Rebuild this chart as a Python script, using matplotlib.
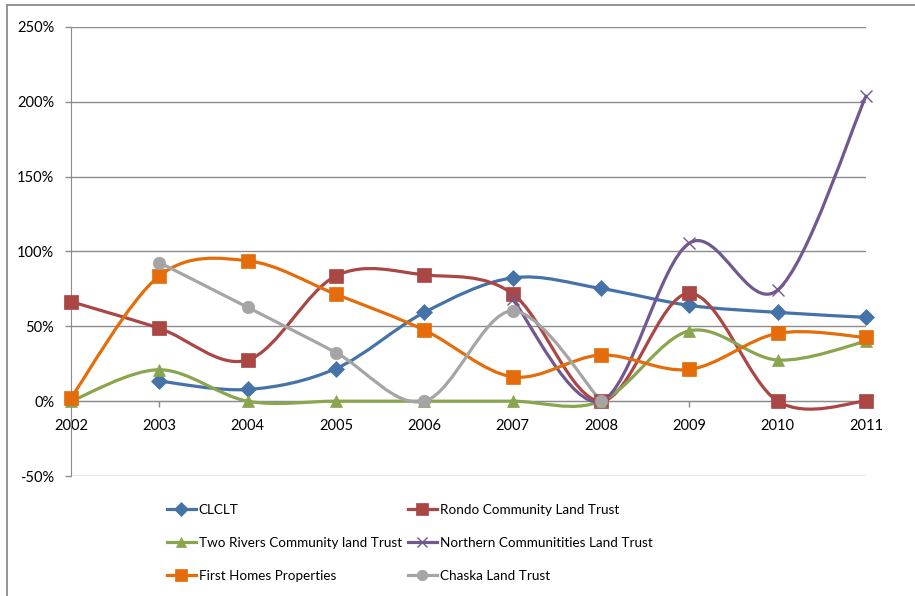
import matplotlib
matplotlib.use('Agg')
import matplotlib.pyplot as plt
from matplotlib.path import Path
from matplotlib.patches import PathPatch
from matplotlib.lines import Line2D

years = ['2002', '2003', '2004', '2005', '2006', '2007', '2008', '2009', '2010', '2011']
clclt = [None, 13.4, 7.8, 21.8, 59.3, 82.4, 75.3, 64.0, 59.3, 56.0]
rondo = [66.5, 48.7, 27.5, 83.7, 84.4, 71.7, 0, 72.1, 0, 0]
two_rivers = [0, 21, 0, 0, 0, 0, 0, 47, 27.5, 40]
northern = [None, None, None, None, None, 68, 0, 105.6, 74.3, 203.8]
first_homes = [2.2, 83.7, 93.8, 71.4, 47.5, 16.3, 30.8, 21.2, 45.3, 42.6]
chaska = [None, 92.6, 62.7, 32.4, 0, 60.3, 0, None, None, None]

names = ['CLCLT', 'Rondo Community Land Trust', 'Two Rivers Community land Trust',
         'Northern Communitities Land Trust', 'First Homes Properties', 'Chaska Land Trust']
yticks = [-50, 0, 50, 100, 150, 200, 250]

series = [clclt, rondo, two_rivers, northern, first_homes, chaska]
colors = ['#4572A7', '#AA4643', '#89A54E', '#71588F', '#E46C0A', '#A5A5A5']
markers = ['D', 's', '^', 'x', 's', 'o']
msizes = [7.8, 9.5, 9, 9, 9.5, 9]

plt.rcParams['font.family'] = ['Lato', 'DejaVu Sans']

fig = plt.figure(figsize=(9.15, 5.96), dpi=100)
ax = fig.add_axes([71/915, 1-476/596, (866-71)/915, (476-27)/596])


def smooth_path(xs, ys):
    verts = [(xs[0], ys[0])]
    codes = [Path.MOVETO]
    n = len(xs)
    for i in range(n - 1):
        p0 = i - 1 if i > 0 else i
        p3 = i + 2 if i + 2 < n else i + 1
        c1 = (xs[i] + (xs[i+1] - xs[p0]) / 6, ys[i] + (ys[i+1] - ys[p0]) / 6)
        c2 = (xs[i+1] - (xs[p3] - xs[i]) / 6, ys[i+1] - (ys[p3] - ys[i]) / 6)
        verts += [c1, c2, (xs[i+1], ys[i+1])]
        codes += [Path.CURVE4] * 3
    return Path(verts, codes)


for vals, c, m, ms in zip(series, colors, markers, msizes):
    runs = []
    cur = []
    for i, v in enumerate(vals):
        if v is None:
            if cur:
                runs.append(cur)
            cur = []
        else:
            cur.append((i, v))
    if cur:
        runs.append(cur)
    for run in runs:
        xs = [p[0] for p in run]
        ys = [p[1] for p in run]
        if len(xs) > 1:
            patch = PathPatch(smooth_path(xs, ys), facecolor='none', edgecolor=c,
                              lw=2.3, clip_on=False, zorder=3, capstyle='round')
            ax.add_patch(patch)
        ax.plot(xs, ys, linestyle='none', marker=m, ms=ms, color=c,
                mec=c, mew=1.0 if m == 'x' else 0.5, clip_on=False, zorder=4)

ax.set_xlim(0, 9)
ax.set_ylim(-50, 250)
ax.set_yticks(yticks)
ax.set_yticklabels([f'{t}%' for t in yticks])
ax.set_xticks(range(len(years)))
ax.set_xticklabels(years)
ax.grid(axis='y', color='#8C8C8C', lw=1.0, zorder=0)
ax.set_axisbelow(True)
for s in ['top', 'right']:
    ax.spines[s].set_visible(False)
ax.spines['left'].set_color('#8C8C8C')
ax.spines['bottom'].set_color('#8C8C8C')
ax.spines['bottom'].set_position(('data', 0))
ax.tick_params(axis='both', colors='#8C8C8C', labelcolor='black', length=4, width=1,
               labelsize=10.5, direction='out')
ax.tick_params(axis='x', pad=9)
ax.tick_params(axis='y', pad=8)

handles = [Line2D([], [], color=c, lw=2.3, marker=m, ms=ms * 0.85,
                  mew=1.0 if m == 'x' else 0.5) for c, m, ms in zip(colors, markers, msizes)]

leg_kw = dict(frameon=False, fontsize=9.7, handlelength=2.15, handletextpad=0.2,
              labelspacing=1.55, borderpad=0, borderaxespad=0, loc='upper left')
fig.legend([handles[0], handles[2], handles[4]], [names[0], names[2], names[4]],
           bbox_to_anchor=(167/915, 1-504/596), **leg_kw)
fig.legend([handles[1], handles[3], handles[5]], [names[1], names[3], names[5]],
           bbox_to_anchor=(408/915, 1-504/596), **leg_kw)

fig.add_artist(Line2D([6.5/915, 6.5/915], [0, 1-4.5/596], color='#8C8C8C', lw=1.3,
                      transform=fig.transFigure))
fig.add_artist(Line2D([6.5/915, 1], [1-4.5/596, 1-4.5/596], color='#8C8C8C', lw=1.3,
                      transform=fig.transFigure))

fig.savefig('out.png', dpi=100)
